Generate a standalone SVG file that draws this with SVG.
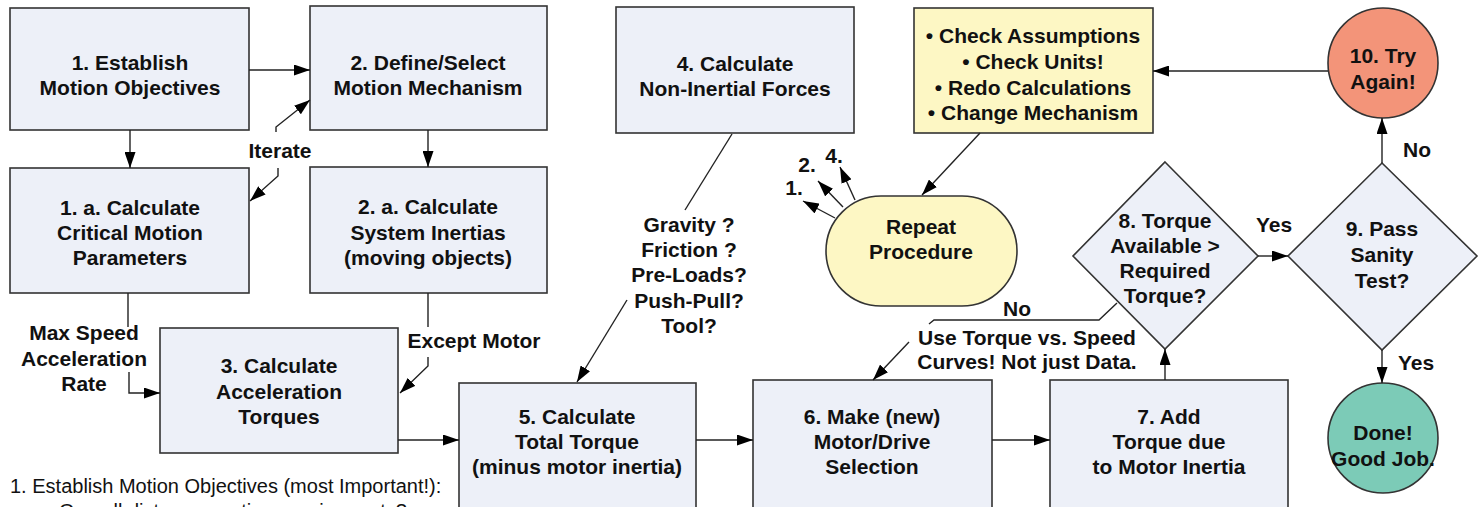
<svg xmlns="http://www.w3.org/2000/svg" width="1480" height="507" viewBox="0 0 1480 507">
<style>
.box{fill:#edf0f8;stroke:#333;stroke-width:1.6}
.yel{fill:#fdf7c4;stroke:#333;stroke-width:1.6}
.t{font-family:"Liberation Sans",Arial,sans-serif;font-weight:bold;font-size:21px;fill:#111;text-anchor:middle}
.n{font-family:"Liberation Sans",Arial,sans-serif;font-size:20px;fill:#111}
.c{fill:none;stroke:#222;stroke-width:1.4}
.a{marker-end:url(#ah)}
</style>
<defs>
<marker id="ah" viewBox="0 0 16 11" refX="16" refY="5.5" markerWidth="16" markerHeight="11" markerUnits="userSpaceOnUse" orient="auto">
<path d="M0,0 L16,5.5 L0,11 z" fill="#000"/>
</marker>
</defs>
<rect width="1480" height="507" fill="#fff"/>

<g id="n1"><rect class="box" x="10" y="8" width="239" height="122"/>
<text class="t" x="130" y="70">1. Establish</text><text class="t" x="130" y="95">Motion Objectives</text></g>
<g id="n2"><rect class="box" x="310" y="6" width="237" height="124"/>
<text class="t" x="428" y="70">2. Define/Select</text><text class="t" x="428" y="95">Motion Mechanism</text></g>
<g id="n1a"><rect class="box" x="10" y="168" width="239" height="125"/>
<text class="t" x="130" y="215">1. a. Calculate</text><text class="t" x="130" y="240">Critical Motion</text><text class="t" x="130" y="265">Parameters</text></g>
<g id="n2a"><rect class="box" x="310" y="167" width="237" height="126"/>
<text class="t" x="428" y="214">2. a. Calculate</text><text class="t" x="428" y="240">System Inertias</text><text class="t" x="428" y="265">(moving objects)</text></g>
<g id="n3"><rect class="box" x="160" y="328" width="238" height="125"/>
<text class="t" x="279" y="373">3. Calculate</text><text class="t" x="279" y="399">Acceleration</text><text class="t" x="279" y="424">Torques</text></g>
<g id="n4"><rect class="box" x="616" y="7" width="238" height="126"/>
<text class="t" x="735" y="71">4. Calculate</text><text class="t" x="735" y="96">Non-Inertial Forces</text></g>
<g id="nchk"><rect class="yel" x="914" y="8" width="239" height="125"/>
<text class="t" x="1033" y="43">• Check Assumptions</text><text class="t" x="1033" y="69">• Check Units!</text><text class="t" x="1033" y="95">• Redo Calculations</text><text class="t" x="1033" y="120">• Change Mechanism</text></g>
<g id="n10"><circle cx="1383" cy="63" r="55" fill="#f39479" stroke="#333" stroke-width="1.6"/>
<text class="t" x="1383" y="63">10. Try</text><text class="t" x="1383" y="89">Again!</text></g>
<g id="nrep"><rect class="yel" x="826" y="196" width="191" height="110" rx="55" ry="55"/>
<text class="t" x="921" y="234">Repeat</text><text class="t" x="921" y="259">Procedure</text></g>
<g id="n8"><polygon class="box" points="1165,162 1258,256 1165,349 1073,256"/>
<text class="t" x="1165" y="228">8. Torque</text><text class="t" x="1165" y="253">Available &gt;</text><text class="t" x="1165" y="278">Required</text><text class="t" x="1165" y="303">Torque?</text></g>
<g id="n9"><polygon class="box" points="1382,163 1477,256 1382,350 1288,256"/>
<text class="t" x="1382" y="236">9. Pass</text><text class="t" x="1382" y="262">Sanity</text><text class="t" x="1382" y="288">Test?</text></g>
<g id="n5"><rect class="box" x="459" y="383" width="237" height="140"/>
<text class="t" x="577" y="424">5. Calculate</text><text class="t" x="577" y="449">Total Torque</text><text class="t" x="577" y="474">(minus motor inertia)</text></g>
<g id="n6"><rect class="box" x="753" y="380" width="239" height="140"/>
<text class="t" x="872" y="424">6. Make (new)</text><text class="t" x="872" y="449">Motor/Drive</text><text class="t" x="872" y="474">Selection</text></g>
<g id="n7"><rect class="box" x="1050" y="380" width="238" height="140"/>
<text class="t" x="1169" y="424">7. Add</text><text class="t" x="1169" y="449">Torque due</text><text class="t" x="1169" y="474">to Motor Inertia</text></g>
<g id="ndone"><circle cx="1383" cy="438" r="55" fill="#7ccbb7" stroke="#333" stroke-width="1.6"/>
<text class="t" x="1383" y="440">Done!</text><text class="t" x="1383" y="466">Good Job.</text></g>

<g id="connectors">
<path class="c a" d="M249,70 H310"/>
<path class="c a" d="M130,130 V168"/>
<path class="c a" d="M428,130 V167"/>
<path class="c a" d="M276,132 V127 L310,100"/>
<path class="c a" d="M278,168 V176 L250,201"/>
<path class="c" d="M128,293 V327"/>
<path class="c a" d="M129,372 V393 H160"/>
<path class="c" d="M428,293 V327"/>
<path class="c a" d="M428,357 V366 L400,393"/>
<path class="c" d="M732,134 L685,210"/>
<path class="c a" d="M627,300 L577,382"/>
<path class="c a" d="M398,440 H459"/>
<path class="c a" d="M696,440 H753"/>
<path class="c a" d="M992,440 H1050"/>
<path class="c a" d="M1165,380 V349"/>
<path class="c a" d="M1258,256 H1288"/>
<path class="c a" d="M1382,163 V118"/>
<path class="c a" d="M1382,350 V383"/>
<path class="c a" d="M1328,71 H1153"/>
<path class="c a" d="M980,133 L922,195"/>
<path class="c a" d="M835,218 L803,201"/>
<path class="c a" d="M843,207 L818,181"/>
<path class="c a" d="M855,200 L840,167"/>
<path class="c" d="M1117,303 L1099,320 H934 L929,324"/>
<path class="c a" d="M909,342 L873,380"/>
</g>

<g id="labels">
<text class="t" x="280" y="158">Iterate</text>
<text class="t" x="84" y="340">Max Speed</text>
<text class="t" x="84" y="366">Acceleration</text>
<text class="t" x="84" y="391">Rate</text>
<text class="t" x="474" y="348">Except Motor</text>
<text class="t" x="689" y="232">Gravity ?</text>
<text class="t" x="689" y="257">Friction ?</text>
<text class="t" x="689" y="282">Pre-Loads?</text>
<text class="t" x="689" y="308">Push-Pull?</text>
<text class="t" x="689" y="333">Tool?</text>
<text class="t" x="794" y="195">1.</text>
<text class="t" x="807" y="172">2.</text>
<text class="t" x="834" y="163">4.</text>
<text class="t" x="1017" y="316">No</text>
<text class="t" x="1027" y="345">Use Torque vs. Speed</text>
<text class="t" x="1027" y="369">Curves! Not just Data.</text>
<text class="t" x="1274" y="232">Yes</text>
<text class="t" x="1417" y="157">No</text>
<text class="t" x="1416" y="370">Yes</text>
<text class="n" x="10" y="493">1. Establish Motion Objectives (most Important!):</text>
<text class="n" x="59" y="518">Overall distance, motion requirements?</text>
</g>
</svg>
